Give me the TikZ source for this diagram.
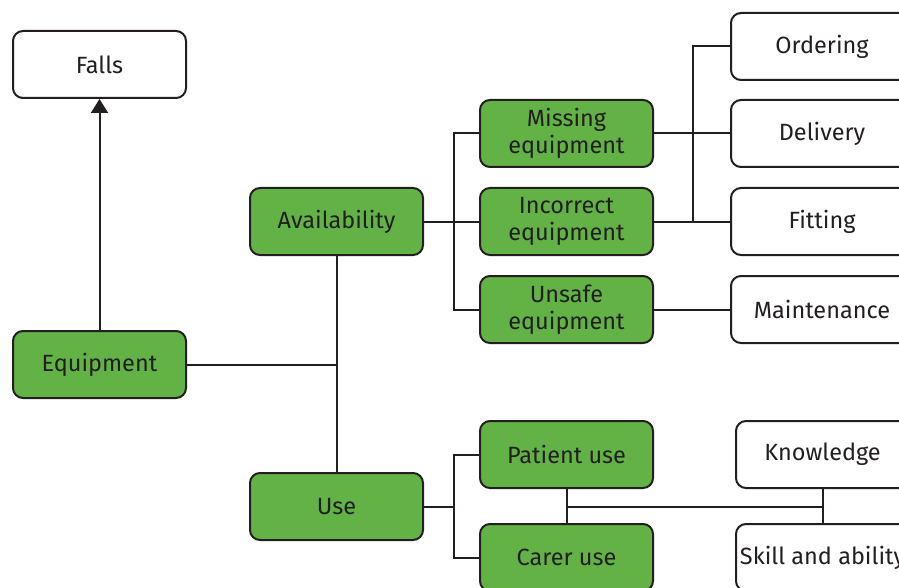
\documentclass[tikz,border=0pt]{standalone}
\usepackage{fontspec}
\setmainfont{Fira Sans}
\usetikzlibrary{arrows.meta}
\definecolor{boxgreen}{HTML}{62B246}
\definecolor{ink}{HTML}{231F20}
\begin{document}
\begin{tikzpicture}[x=1pt,y=-1pt,
  base/.style={draw=ink, line width=2pt, rounded corners=10pt, minimum width=173pt, minimum height=67pt, inner sep=0pt, align=center, font=\fontsize{23.5}{27}\selectfont, text=ink},
  gbox/.style={base, fill=boxgreen},
  wbox/.style={base, fill=white},
  widebox/.style={minimum width=182pt},
  conn/.style={draw=ink, line width=2pt}]
\useasboundingbox (0,0) rectangle (899,588);
% nodes
\node[wbox] (falls) at (99.5,64.5) {Falls};
\node[gbox] (equip) at (99.5,364.5) {Equipment};
\node[gbox] (avail) at (336.5,221.5) {Availability};
\node[gbox] (use) at (336.5,506.5) {Use};
\node[gbox] (missing) at (566.5,133.5) {Missing\\equipment};
\node[gbox] (incorrect) at (566.5,221.5) {Incorrect\\equipment};
\node[gbox] (unsafe) at (566.5,309.5) {Unsafe\\equipment};
\node[gbox] (patient) at (566.5,454.5) {Patient use};
\node[gbox] (carer) at (566.5,557.5) {Carer use};
\node[wbox,widebox] (ordering) at (822,46.5) {Ordering};
\node[wbox,widebox] (delivery) at (822,133.5) {Delivery};
\node[wbox,widebox] (fitting) at (822,221.5) {Fitting};
\node[wbox,widebox] (maint) at (822,309.5) {Maintenance};
\node[wbox] (knowledge) at (822.5,454.5) {Knowledge};
\node[wbox] (skill) at (822.5,557.5) {Skill and ability};
% connectors
\draw[conn,-{Triangle[length=14pt,width=17pt]}] (equip.north) -- (falls.south);
\draw[conn] (avail.south) -- (use.north);
\draw[conn] (equip.east) -- (equip.east -| avail.south);
\draw[conn] (avail.east) -- (incorrect.west);
\draw[conn] (missing.west) -- ++(-25,0) |- (unsafe.west);
\draw[conn] (missing.east) -- (delivery.west);
\draw[conn] (incorrect.east) -- (fitting.west);
\coordinate (bus2) at (693,221.5);
\draw[conn] (ordering.west) -| (bus2);
\draw[conn] (unsafe.east) -- (maint.west);
\coordinate (ubus) at (455,506.5);
\draw[conn] (use.east) -- (ubus);
\draw[conn] (patient.west) -- ++(-25,0) |- (carer.west);
\draw[conn] (patient.south) -- (carer.north);
\draw[conn] (knowledge.south) -- (skill.north);
\draw[conn] (patient.south |- use.east) -- (knowledge.south |- use.east);
\end{tikzpicture}
\end{document}
